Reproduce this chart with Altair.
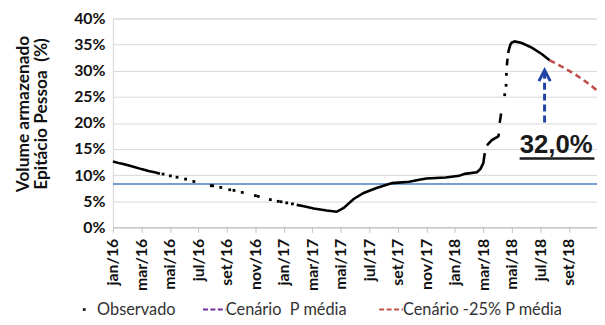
import altair as alt
import pandas as pd

# ---------------- data (month index since jan/16, % stored volume) -------------
months_pt = ['jan', 'fev', 'mar', 'abr', 'mai', 'jun', 'jul', 'ago', 'set', 'out', 'nov', 'dez']
x_tick_values = [0, 2, 4, 6, 8, 10, 12, 14, 16, 18, 20, 22, 24, 26, 28, 30, 32, 34]
y_tick_values = [0, 5, 10, 15, 20, 25, 30, 35, 40]

# observed series: contiguous runs of dense daily observations
run_id = [1] * 8 + [2] * 20 + [3] * 4 + [4] * 2 + [5] * 2 + [6] * 9
run_month = [0, 0.5, 1, 1.5, 2, 2.5, 3, 3.3,
             12.9, 13.4, 14.1, 15.0, 15.7, 16.2, 16.9, 17.6, 18.5, 19.6, 20.8, 21.5,
             22.0, 23.35, 24.3, 24.7, 25.55, 25.8, 26.0, 26.1,
             26.25, 26.6, 27.05, 27.1,
             27.15, 27.25,
             27.65, 27.7,
             27.75, 27.8, 27.9, 28.0, 28.2, 28.7, 29.4, 30.1, 30.65]
run_vol = [12.6, 12.25, 11.95, 11.55, 11.15, 10.8, 10.5, 10.25,
           4.3, 4.04, 3.6, 3.22, 2.98, 3.73, 5.44, 6.58, 7.52, 8.47, 8.72, 9.1,
           9.35, 9.54, 9.86, 10.24, 10.56, 11.2, 12.3, 14.2,
           15.7, 16.7, 17.4, 17.95,
           20.0, 21.8,
           31.0, 32.3,
           33.4, 34.1, 35.0, 35.4, 35.6, 35.3, 34.4, 33.2, 32.0]

# observed series: isolated observations
dot_month = [3.52, 4.03, 4.5, 5.1, 5.68, 6.9, 7.0, 7.57, 8.2, 8.5, 9.08, 10.0, 10.2,
             11.05, 11.6, 11.8, 12.2, 12.6, 27.5, 27.6, 27.62]
dot_vol = [10.2, 9.86, 9.6, 9.23, 8.78, 7.98, 7.95, 7.64, 7.2, 7.07, 6.69, 6.07, 5.93,
           5.31, 4.98, 4.9, 4.68, 4.49, 25.4, 27.2, 29.3]

# scenario -25% P média
scen_month = [30.65, 31.5, 32.5, 33.5, 34.5]
scen_vol = [32.0, 30.8, 29.2, 27.3, 25.0]

ref_level = 8.3

arrow_month = 30.3
arrow_from = 20.1
arrow_to = 29.6
head_month = [29.9, 30.3, 30.7]
head_vol = [28.0, 30.1, 28.0]

label_text = "32,0%"
label_month = 28.55
label_vol = 14.16
underline_vol = 13.2
underline_end = 33.8

NBSP = "\u00a0"
legend_items = ["Observado", "Cenário" + NBSP + NBSP + "P média", "Cenário -25% P média"]
y_title = ["Volume armazenado", "Epitácio Pessoa" + NBSP + NBSP + "(%)"]

# ---------------- chart -------------------------------------------------------
X_MAX = 33.98
LABEL_FONT = "Lato"

xs = alt.Scale(domain=[0, X_MAX], nice=False, zero=False)
ys = alt.Scale(domain=[0, 40], nice=False)

month_arr = "[" + ",".join("'%s'" % m for m in months_pt) + "]"
x_axis = alt.Axis(
    values=x_tick_values,
    labelExpr=month_arr + "[datum.value % 12] + '/' + (16 + floor(datum.value / 12))",
    labelAngle=-90, labelFont=LABEL_FONT, labelFontSize=16, labelFontWeight="bold",
    labelColor="#111111", labelPadding=6, labelOverlap=False, labelFlush=False,
    labelBound=False, grid=False, ticks=True, tickSize=5, tickColor="#bfbfbf",
    domainColor="#bfbfbf", domainWidth=1, title=None,
)
y_axis = alt.Axis(
    values=y_tick_values, labelExpr="datum.value + '%'",
    labelFont=LABEL_FONT, labelFontSize=16, labelFontWeight="bold", labelColor="#111111",
    labelPadding=8, ticks=False, grid=True, gridColor="#d9d9d9", gridWidth=1,
    domainColor="#d9d9d9",
    title=y_title,
    titleFont=LABEL_FONT, titleFontSize=17.5, titleFontWeight="bold", titleColor="#111111",
    titleAngle=270, titleAlign="center", titleBaseline="top", titleLineHeight=18,
    titleX=-99, titleY=96,
)

X = alt.X("m:Q", scale=xs, axis=x_axis)
Y = alt.Y("v:Q", scale=ys, axis=y_axis)

runs = pd.DataFrame({"seg": run_id, "m": run_month, "v": run_vol})
dots = pd.DataFrame({"m": dot_month, "v": dot_vol})
scen = pd.DataFrame({"m": scen_month, "v": scen_vol})
head = pd.DataFrame({"m": head_month, "v": head_vol})

ref_rule = alt.Chart(pd.DataFrame({"v": [ref_level]})).mark_rule(
    color="#4a7ebb", strokeWidth=1.3).encode(y=Y)

obs_lines = alt.Chart(runs).mark_line(color="black", strokeWidth=2.6).encode(
    x=X, y=Y, detail="seg:N", order="m:Q")

obs_dots = alt.Chart(dots).mark_point(shape="square", filled=True, color="black",
                                      size=8, opacity=1).encode(x=X, y=Y)

scen_line = alt.Chart(scen).mark_line(color="#c0504d", strokeWidth=2.6,
                                      strokeDash=[6, 4], clip=True).encode(x=X, y=Y)

arrow_shaft = alt.Chart(pd.DataFrame({"m": [arrow_month], "v": [arrow_from], "v2": [arrow_to]})).mark_rule(
    color="#2143a3", strokeWidth=3, strokeDash=[7, 4]).encode(x=X, y=Y, y2="v2:Q")

arrow_head = alt.Chart(head).mark_line(color="#2143a3", strokeWidth=3).encode(x=X, y=Y)

ann_text = alt.Chart(pd.DataFrame({"m": [label_month], "v": [label_vol], "t": [label_text]})).mark_text(
    align="left", baseline="alphabetic", font="Liberation Sans", fontSize=26,
    fontWeight="bold", color="#1a1a1a").encode(x=X, y=Y, text="t:N")

underline = alt.Chart(pd.DataFrame({"m": [label_month], "m2": [underline_end], "v": [underline_vol]})).mark_rule(
    color="#1a1a1a", strokeWidth=2.5).encode(x=X, x2="m2:Q", y=Y)

# legend (drawn below the axis)
LEG_Y = 300
LEG_FS = 16.5
leg_layers = [
    alt.Chart(pd.DataFrame({"t": ["o"]})).mark_point(shape="square", filled=True, color="#222222",
                                                      size=8, opacity=1).encode(
        x=alt.value(-29), y=alt.value(LEG_Y - 6)),
    alt.Chart(pd.DataFrame({"t": [legend_items[0]]})).mark_text(
        align="left", baseline="alphabetic", font=LABEL_FONT, fontSize=LEG_FS, color="#333333").encode(
        x=alt.value(-16), y=alt.value(LEG_Y), text="t:N"),
    alt.Chart(pd.DataFrame({"t": ["s1"]})).mark_rule(color="#7030a0", strokeWidth=2, strokeDash=[5, 2.5]).encode(
        x=alt.value(91), x2=alt.value(114), y=alt.value(LEG_Y - 6)),
    alt.Chart(pd.DataFrame({"t": [legend_items[1]]})).mark_text(
        align="left", baseline="alphabetic", font=LABEL_FONT, fontSize=LEG_FS, color="#333333").encode(
        x=alt.value(114), y=alt.value(LEG_Y), text="t:N"),
    alt.Chart(pd.DataFrame({"t": ["s2"]})).mark_rule(color="#c0504d", strokeWidth=2, strokeDash=[5, 2.5]).encode(
        x=alt.value(269), x2=alt.value(293), y=alt.value(LEG_Y - 6)),
    alt.Chart(pd.DataFrame({"t": [legend_items[2]]})).mark_text(
        align="left", baseline="alphabetic", font=LABEL_FONT, fontSize=LEG_FS, color="#333333").encode(
        x=alt.value(293), y=alt.value(LEG_Y), text="t:N"),
]

chart = alt.layer(
    ref_rule, obs_lines, obs_dots, scen_line, arrow_shaft, arrow_head, ann_text, underline,
    *leg_layers,
).properties(
    width=489, height=211,
    autosize=alt.AutoSizeParams(type="none"),
    padding={"left": 106, "top": 9, "right": 0, "bottom": 89},
).configure_view(stroke=None).configure(background="white")

chart.save("out.html", embed_options={"renderer": "svg", "actions": False})
